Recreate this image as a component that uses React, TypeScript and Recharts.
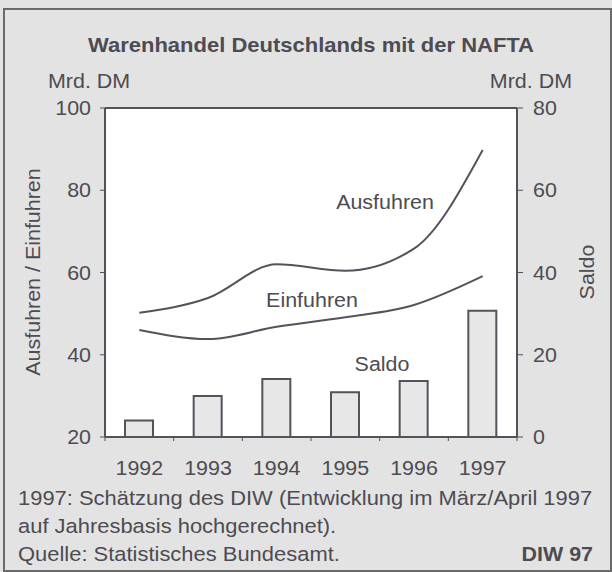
import React from 'react';
import { ComposedChart, Bar, Line, XAxis, YAxis, ReferenceLine, ReferenceArea } from 'recharts';

const years = ['1992', '1993', '1994', '1995', '1996', '1997'];
const ausfuhren = [50.2, 53.8, 62.0, 60.4, 65.8, 89.8];
const einfuhren = [46.0, 43.8, 46.8, 49.1, 52.1, 59.1];
const saldo = [4.0, 10.0, 14.1, 10.9, 13.6, 30.7];
const leftTicks = [20, 40, 60, 80, 100];
const rightTicks = [0, 20, 40, 60, 80];
// category edges (integers) and category centres (halves)
const xTicks = [0, 0.5, 1, 1.5, 2, 2.5, 3, 3.5, 4, 4.5, 5, 5.5, 6];

const data = years.map((y, i) => ({
  pos: i + 0.5,
  year: y,
  ausfuhren: ausfuhren[i],
  einfuhren: einfuhren[i],
  saldo: saldo[i],
}));

const FONT = '"Liberation Sans", Arial, sans-serif';
const TEXT = '#4e4b52';
const INK = '#57515c';
const SX = 1.1;
const FS = 19.5;

function SText(props: any) {
  const { x, y, anchor = 'start', size = FS, bold = false, rotate = 0, sx = SX, children } = props;
  return (
    <g transform={`translate(${x},${y}) rotate(${rotate}) scale(${sx},1)`}>
      <text
        x={0}
        y={0}
        textAnchor={anchor}
        fontSize={size}
        fontWeight={bold ? 'bold' : 'normal'}
        fill={TEXT}
        fontFamily={FONT}
      >
        {children}
      </text>
    </g>
  );
}

function YTick(props: any) {
  const { x, y, payload, textAnchor } = props;
  return (
    <g transform={`translate(${x},${y}) scale(${SX},1)`}>
      <text x={0} y={0} dy="0.36em" textAnchor={textAnchor} fontSize={FS} fill={TEXT} fontFamily={FONT}>
        {payload.value}
      </text>
    </g>
  );
}

function XTick(props: any) {
  const { x, y, payload } = props;
  const v = payload.value as number;
  if (Number.isInteger(v)) {
    return <line x1={x} x2={x} y1={y} y2={y + 4} stroke={INK} strokeWidth={1} />;
  }
  const label = years[Math.floor(v)];
  return (
    <g transform={`translate(${x},${y + 38}) scale(${SX},1)`}>
      <text x={0} y={0} textAnchor="middle" fontSize={FS} fill={TEXT} fontFamily={FONT}>
        {label}
      </text>
    </g>
  );
}

export default function App() {
  return (
    <div
      style={{
        position: 'absolute',
        left: 0,
        top: 0,
        width: 612,
        height: 572,
        background: '#e3e3e3',
        overflow: 'hidden',
        fontFamily: FONT,
      }}
    >
      <div style={{ position: 'absolute', left: 0, top: 0 }}>
        <ComposedChart
          width={612}
          height={572}
          data={data}
          margin={{ top: 108, right: 35, bottom: 95, left: 45 }}
        >
          <ReferenceArea
            yAxisId="left"
            x1={0}
            x2={6}
            y1={20}
            y2={100}
            fill="#ffffff"
            fillOpacity={1}
            stroke="none"
          />
          <XAxis
            dataKey="pos"
            type="number"
            domain={[0, 6]}
            ticks={xTicks}
            interval={0}
            height={40}
            tickLine={false}
            tickSize={0}
            tickMargin={0}
            axisLine={{ stroke: INK, strokeWidth: 2 }}
            tick={<XTick />}
          />
          <YAxis
            yAxisId="left"
            width={60}
            domain={[20, 100]}
            ticks={leftTicks}
            tickSize={5}
            tickMargin={9}
            axisLine={{ stroke: INK, strokeWidth: 2 }}
            tickLine={{ stroke: INK }}
            tick={<YTick />}
          />
          <YAxis
            yAxisId="right"
            orientation="right"
            width={60}
            domain={[0, 80]}
            ticks={rightTicks}
            tickSize={6}
            tickMargin={10}
            axisLine={{ stroke: INK, strokeWidth: 2 }}
            tickLine={{ stroke: INK }}
            tick={<YTick />}
          />
          <ReferenceLine yAxisId="left" y={100} stroke={INK} strokeWidth={2} />
          <Bar
            yAxisId="right"
            dataKey="saldo"
            barSize={28}
            fill="#e7e7e7"
            stroke={INK}
            strokeWidth={2}
            isAnimationActive={false}
          />
          <Line
            yAxisId="left"
            type="monotone"
            dataKey="ausfuhren"
            stroke={INK}
            strokeWidth={2}
            dot={false}
            isAnimationActive={false}
          />
          <Line
            yAxisId="left"
            type="monotone"
            dataKey="einfuhren"
            stroke={INK}
            strokeWidth={2}
            dot={false}
            isAnimationActive={false}
          />
        </ComposedChart>
      </div>
      <svg
        width={612}
        height={572}
        style={{ position: 'absolute', left: 0, top: 0, pointerEvents: 'none' }}
      >
        <rect x={4} y={9} width={607} height={562} fill="none" stroke="#6a6a6a" strokeWidth={2} />
        <SText x={311} y={52} anchor="middle" size={20} bold>
          Warenhandel Deutschlands mit der NAFTA
        </SText>
        <SText x={48} y={88}>Mrd. DM</SText>
        <SText x={572} y={88} anchor="end">Mrd. DM</SText>
        <SText x={40} y={272} anchor="middle" rotate={-90}>Ausfuhren / Einfuhren</SText>
        <SText x={594} y={272} anchor="middle" rotate={-90}>Saldo</SText>
        <SText x={385} y={209} anchor="middle">Ausfuhren</SText>
        <SText x={312} y={307} anchor="middle">Einfuhren</SText>
        <SText x={382} y={371} anchor="middle">Saldo</SText>
        <SText x={18} y={505} sx={1.125}>1997: Schätzung des DIW (Entwicklung im März/April 1997</SText>
        <SText x={18} y={533} sx={1.125}>auf Jahresbasis hochgerechnet).</SText>
        <SText x={18} y={561} sx={1.125}>Quelle: Statistisches Bundesamt.</SText>
        <SText x={593} y={561} anchor="end" bold>DIW 97</SText>
      </svg>
    </div>
  );
}
